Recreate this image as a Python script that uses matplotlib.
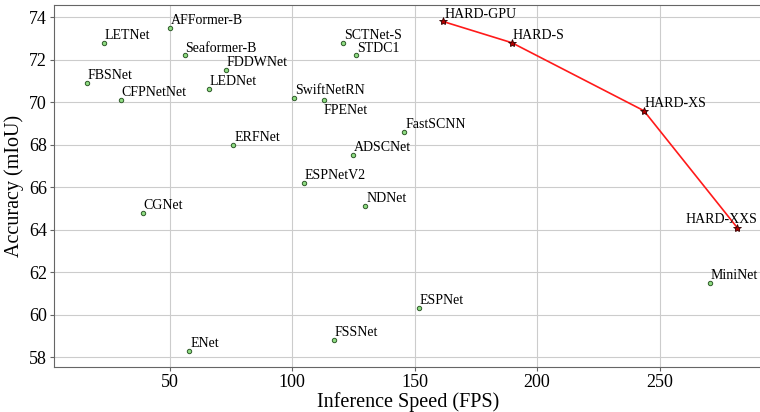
import matplotlib
matplotlib.use("Agg")
import matplotlib.pyplot as plt

# ── Data ────────────────────────────────────────────────────────────────────
other_names = ["LETNet", "AFFormer-B", "Seaformer-B", "FDDWNet", "LEDNet",
               "FBSNet", "CFPNetNet", "ERFNet", "SwiftNetRN", "FPENet",
               "SCTNet-S", "STDC1", "ADSCNet", "ESPNetV2", "NDNet",
               "FastSCNN", "CGNet", "ENet", "FSSNet", "ESPNet", "MiniNet"]
other_fps = [23.0, 50.0, 56.0, 72.9, 65.9,
             16.1, 30.0, 75.9, 100.9, 112.9,
             120.8, 126.0, 124.9, 104.7, 129.8,
             145.7, 38.9, 57.9, 116.9, 151.7, 270.6]
other_miou = [72.8, 73.5, 72.2, 71.5, 70.6,
              70.9, 70.1, 68.0, 70.2, 70.1,
              72.8, 72.2, 67.5, 66.2, 65.1,
              68.6, 64.8, 58.3, 58.8, 60.3, 61.5]

hard_names = ["HARD-GPU", "HARD-S", "HARD-XS", "HARD-XXS"]
hard_fps = [161.6, 189.7, 243.6, 281.7]
hard_miou = [73.8, 72.8, 69.6, 64.1]

x_ticks = [50, 100, 150, 200, 250]
y_ticks = [58, 60, 62, 64, 66, 68, 70, 72, 74]

plt.rcParams["font.family"] = ["Liberation Serif", "DejaVu Serif"]

fig = plt.figure(figsize=(7.6, 4.12), dpi=100)
ax = fig.add_axes([0.0711, 0.109, 0.932, 0.878])

ax.grid(True, color="#cccccc", linewidth=0.8, zorder=0)
ax.set_axisbelow(True)

ax.scatter(other_fps, other_miou, s=10, c="#8fdc82", edgecolors="#2f5a2a",
           linewidths=0.7, zorder=3)
ax.plot(hard_fps, hard_miou, color="#ff1a1a", linewidth=1.2, marker="*",
        markersize=6, markerfacecolor="#b00000", markeredgecolor="#300000",
        markeredgewidth=0.6, zorder=4)

# labels: default is just above-right of the point
offsets = {"FPENet": ((0, -3), "left", "top"),
           "HARD-XXS": ((-11, 1), "center", "bottom")}
for name, x, y in zip(other_names + hard_names, other_fps + hard_fps,
                      other_miou + hard_miou):
    off, ha, va = offsets.get(name, ((0.7, 0.7), "left", "bottom"))
    ax.annotate(name, (x, y), xytext=off, textcoords="offset points",
                ha=ha, va=va, fontsize=10, zorder=5)

ax.set_xlim(2.7, 292)
ax.set_ylim(57.53, 74.56)
ax.set_xticks(x_ticks)
ax.set_yticks(y_ticks)
ax.tick_params(labelsize=13, length=3, color="#666666", pad=2)
for side in ["left", "bottom", "top", "right"]:
    ax.spines[side].set_color("#666666")

ax.set_xlabel("Inference Speed (FPS)", fontsize=14.5, labelpad=1)
ax.set_ylabel("Accuracy (mIoU)", fontsize=14.5, labelpad=4)

plt.savefig("out.png", dpi=100)
plt.close()
